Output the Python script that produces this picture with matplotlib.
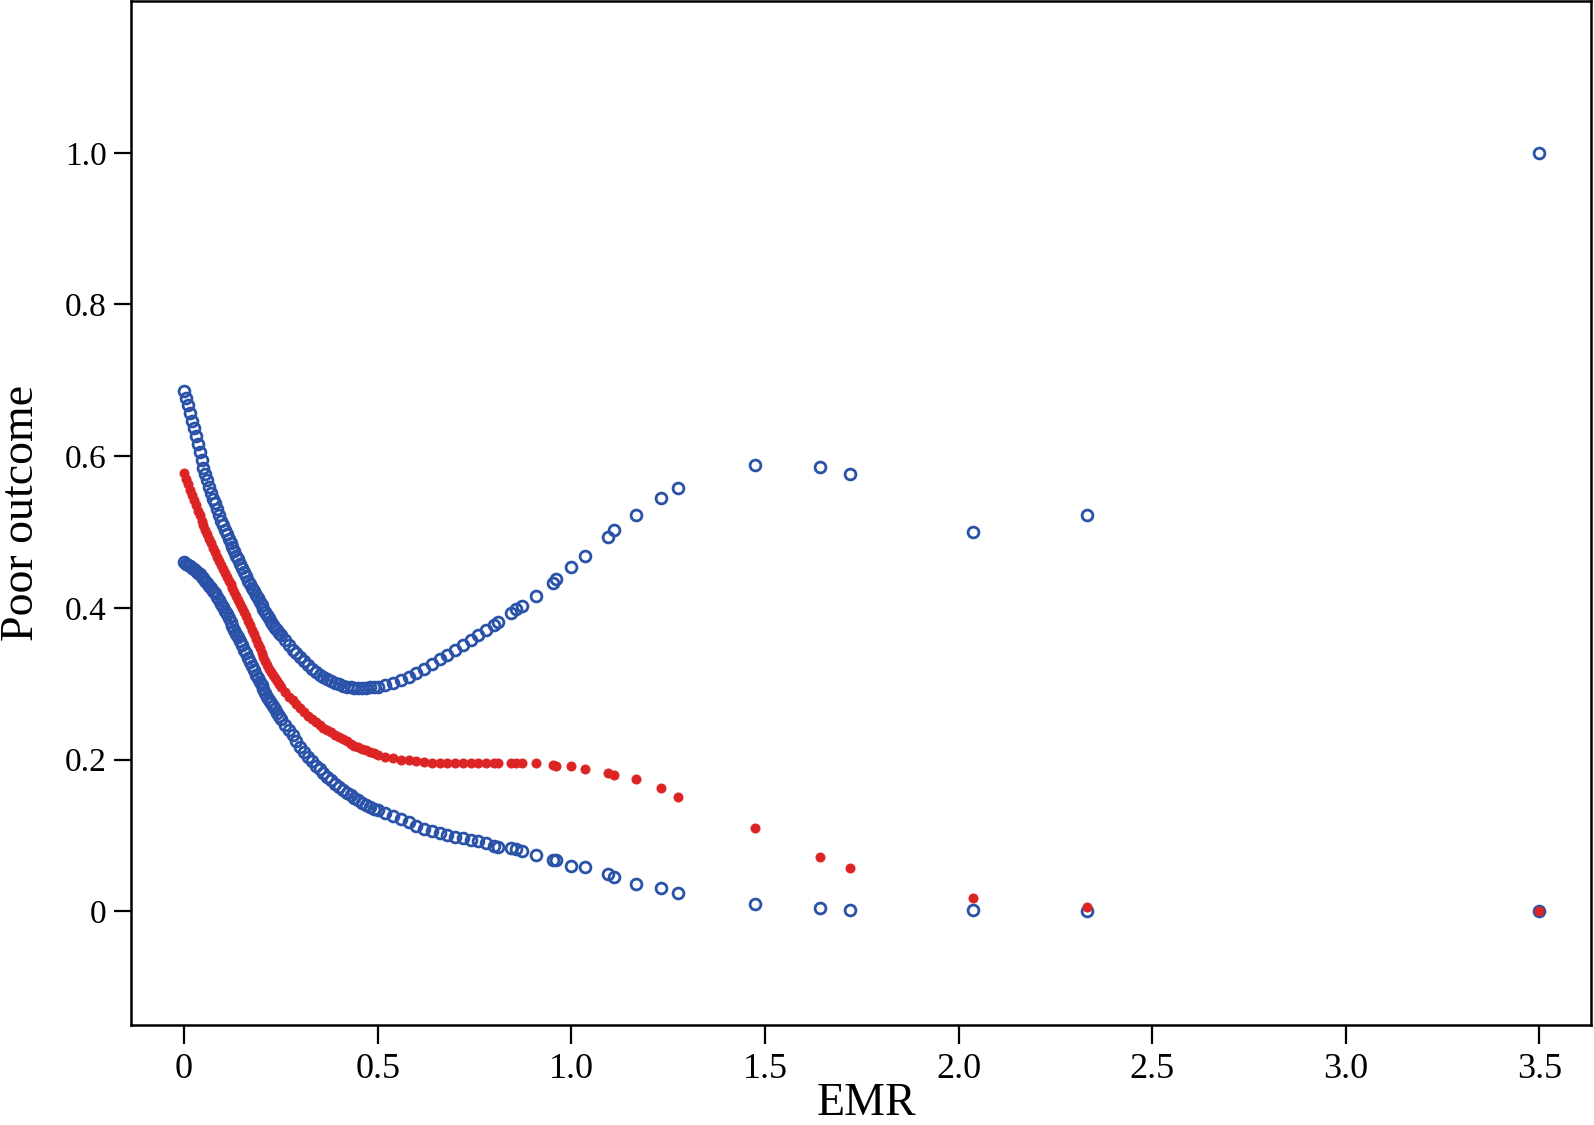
import matplotlib
matplotlib.use("Agg")
import matplotlib.pyplot as plt

# ---- data ----
emr = [0.000, 0.005, 0.010, 0.015, 0.020, 0.025, 0.030, 0.035, 0.040, 0.045,
       0.050, 0.055, 0.060, 0.065, 0.070, 0.075, 0.080, 0.085, 0.090, 0.095,
       0.100, 0.105, 0.110, 0.115, 0.120, 0.125, 0.130, 0.135, 0.140, 0.145,
       0.150, 0.155, 0.160, 0.165, 0.170, 0.175, 0.180, 0.185, 0.190, 0.195,
       0.200, 0.205, 0.210, 0.215, 0.220, 0.225, 0.230, 0.235, 0.240, 0.245,
       0.25, 0.26, 0.27, 0.28, 0.29,
       0.30, 0.31, 0.32, 0.33, 0.34, 0.35, 0.36, 0.37, 0.38, 0.39,
       0.40, 0.41, 0.42, 0.43, 0.44, 0.45, 0.46, 0.47, 0.48, 0.49,
       0.50, 0.52, 0.54, 0.56, 0.58, 0.60, 0.62, 0.64, 0.66, 0.68,
       0.70, 0.72, 0.74, 0.76, 0.78, 0.80, 0.81, 0.845, 0.857, 0.872,
       0.910, 0.952, 0.960, 0.999, 1.035, 1.094, 1.111, 1.166, 1.232, 1.275,
       1.474, 1.642, 1.720, 2.037, 2.332, 3.500]

upper = [0.686, 0.677, 0.667, 0.657, 0.647, 0.637, 0.627, 0.616, 0.605, 0.595,
         0.585, 0.576, 0.568, 0.559, 0.551, 0.544, 0.538, 0.530, 0.522, 0.515,
         0.509, 0.503, 0.497, 0.491, 0.486, 0.480, 0.475, 0.469, 0.464, 0.458,
         0.453, 0.447, 0.442, 0.436, 0.431, 0.426, 0.422, 0.417, 0.413, 0.408,
         0.404, 0.399, 0.395, 0.390, 0.386, 0.382, 0.378, 0.374, 0.371, 0.367,
         0.364, 0.357, 0.351, 0.345, 0.340,
         0.335, 0.330, 0.325, 0.320, 0.316, 0.312, 0.309, 0.306, 0.303, 0.301,
         0.299, 0.297, 0.296, 0.295, 0.294, 0.294, 0.294, 0.294, 0.295, 0.295,
         0.296, 0.298, 0.301, 0.305, 0.309, 0.314, 0.320, 0.326, 0.332, 0.338,
         0.344, 0.351, 0.358, 0.364, 0.371, 0.377, 0.381, 0.393, 0.398, 0.403,
         0.415, 0.433, 0.438, 0.454, 0.469, 0.493, 0.502, 0.522, 0.545, 0.558,
         0.589, 0.586, 0.577, 0.500, 0.523, 1.000]

fit = [0.578, 0.570, 0.563, 0.556, 0.549, 0.542, 0.535, 0.528, 0.522, 0.515,
       0.509, 0.503, 0.497, 0.491, 0.485, 0.479, 0.473, 0.467, 0.462, 0.456,
       0.451, 0.446, 0.441, 0.436, 0.431, 0.426, 0.421, 0.416, 0.411, 0.405,
       0.400, 0.394, 0.389, 0.383, 0.377, 0.371, 0.365, 0.359, 0.353, 0.347,
       0.341, 0.335, 0.330, 0.325, 0.320, 0.315, 0.311, 0.307, 0.303, 0.299,
       0.296, 0.289, 0.283, 0.278, 0.273,
       0.268, 0.263, 0.258, 0.254, 0.250, 0.246, 0.242, 0.239, 0.236, 0.233,
       0.230, 0.227, 0.224, 0.221, 0.218, 0.216, 0.214, 0.212, 0.210, 0.208,
       0.206, 0.204, 0.202, 0.200, 0.199, 0.198, 0.197, 0.196, 0.196, 0.196,
       0.196, 0.196, 0.196, 0.196, 0.195, 0.195, 0.195, 0.195, 0.195, 0.195,
       0.195, 0.193, 0.192, 0.192, 0.188, 0.182, 0.179, 0.174, 0.162, 0.151,
       0.110, 0.072, 0.057, 0.018, 0.006, 0.000]

lower = [0.460, 0.458, 0.457, 0.455, 0.453, 0.451, 0.449, 0.446, 0.444, 0.441,
         0.439, 0.436, 0.433, 0.429, 0.426, 0.422, 0.419, 0.414, 0.410, 0.405,
         0.401, 0.396, 0.392, 0.387, 0.382, 0.376, 0.371, 0.366, 0.361, 0.356,
         0.351, 0.345, 0.340, 0.334, 0.329, 0.323, 0.318, 0.312, 0.307, 0.302,
         0.298, 0.293, 0.288, 0.283, 0.279, 0.274, 0.270, 0.266, 0.262, 0.258,
         0.254, 0.246, 0.239, 0.232, 0.224,
         0.217, 0.210, 0.204, 0.198, 0.192, 0.187, 0.182, 0.177, 0.173, 0.168,
         0.164, 0.160, 0.156, 0.153, 0.149, 0.146, 0.143, 0.140, 0.137, 0.135,
         0.133, 0.130, 0.126, 0.122, 0.118, 0.113, 0.109, 0.106, 0.103, 0.101,
         0.098, 0.096, 0.094, 0.092, 0.090, 0.086, 0.085, 0.084, 0.082, 0.080,
         0.074, 0.068, 0.067, 0.060, 0.058, 0.049, 0.045, 0.036, 0.030, 0.024,
         0.010, 0.004, 0.001, 0.001, 0.000, 0.000]

x_ticks = [0, 0.5, 1.0, 1.5, 2.0, 2.5, 3.0, 3.5]
x_tick_labels = ["0", "0.5", "1.0", "1.5", "2.0", "2.5", "3.0", "3.5"]
y_ticks = [0, 0.2, 0.4, 0.6, 0.8, 1.0]
y_tick_labels = ["0", "0.2", "0.4", "0.6", "0.8", "1.0"]

BLUE = "#2A52A8"
RED = "#DC2424"

plt.rcParams["font.family"] = ["Liberation Serif", "DejaVu Serif"]

fig = plt.figure(figsize=(15.94, 11.25), dpi=100)
ax = fig.add_axes([0.0822, 0.0889, 0.9159, 0.9101])

ax.plot(emr, upper, linestyle="none", marker="o", markersize=7.8,
        markerfacecolor="none", markeredgecolor=BLUE, markeredgewidth=2.0)
ax.plot(emr, lower, linestyle="none", marker="o", markersize=7.8,
        markerfacecolor="none", markeredgecolor=BLUE, markeredgewidth=2.0)
ax.plot(emr, fit, linestyle="none", marker="o", markersize=6.6,
        markerfacecolor=RED, markeredgecolor=RED, markeredgewidth=0.6)

ax.set_xlim(-0.137, 3.633)
ax.set_ylim(-0.150, 1.2)

ax.set_xticks(x_ticks)
ax.set_xticklabels(x_tick_labels, fontsize=26)
ax.set_yticks(y_ticks)
ax.set_yticklabels(y_tick_labels, fontsize=24)

ax.tick_params(axis="x", direction="out", length=14, width=1.6, pad=6, color="black")
ax.tick_params(axis="y", direction="out", length=12.5, width=1.6, pad=5, color="black")

for s in ax.spines.values():
    s.set_linewidth(1.8)
    s.set_color("black")

ax.set_xlabel("EMR", fontsize=33)
ax.set_ylabel("Poor outcome", fontsize=33)
ax.xaxis.set_label_coords(0.504, -0.056)
ax.yaxis.set_label_coords(-0.060, 0.5)

fig.savefig("out.png", dpi=100)
